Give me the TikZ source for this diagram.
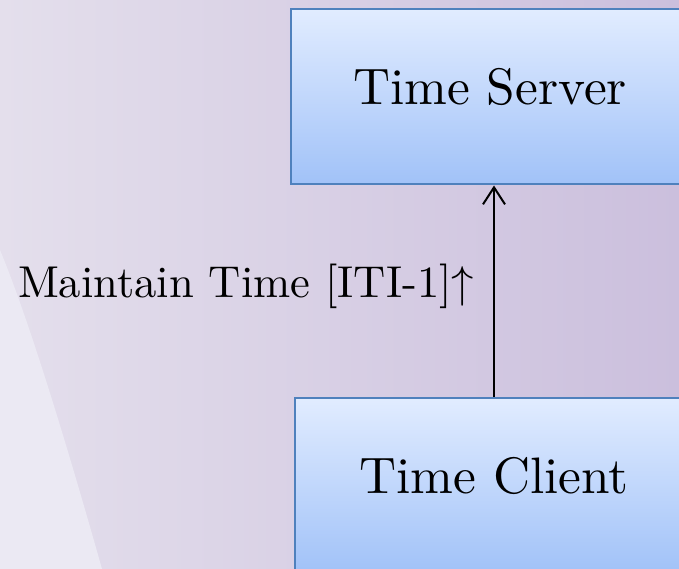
\RequirePackage{fix-cm}
\documentclass[tikz,border=0pt]{standalone}
\usepackage{fontspec}
\setmainfont{lmroman10-regular.otf}
\usetikzlibrary{arrows.meta,positioning}
\definecolor{bgleft}{HTML}{E4DFEC}
\definecolor{bgright}{HTML}{CBBFDD}
\definecolor{bglight}{HTML}{EBE9F3}
\definecolor{boxline}{HTML}{4F81BD}
\definecolor{boxtop}{HTML}{E1ECFF}
\definecolor{boxbottom}{HTML}{A1C2F8}
\tikzset{
  actorbox/.style={draw=boxline, line width=2pt, top color=boxtop, bottom color=boxbottom,
    minimum width=398pt, minimum height=175pt, text height=40pt, text depth=25pt,
    inner sep=0pt, font=\fontsize{51.3}{60}\selectfont},
  txnarrow/.style={-{Straight Barb[length=17pt,width=22pt]}, line width=2pt},
}
\begin{document}
\begin{tikzpicture}[x=1pt,y=-1pt]
    \useasboundingbox (0,0) rectangle (679,569);
    \clip (0,0) rectangle (679,569);
    % background
    \shade[left color=bgleft, right color=bgright] (0,0) rectangle (679,569);
    \fill[bglight] (0,250) .. controls (25,310) and (60,420) .. (102,569) -- (0,569) -- cycle;
    % actors
    \node[actorbox] (server) at (490,97) {Time Server};
    \node[actorbox] (client) at (494,485.5) {Time Client};
    % transaction
    \draw[txnarrow] (client.north) -- (client.north |- server.south)
        node[pos=0.47, anchor=base east, xshift=-19pt, inner sep=0pt,
             font=\fontsize{44.6}{52}\selectfont] (maintain) {Maintain Time [ITI-1]$\uparrow$};
\end{tikzpicture}
\end{document}
